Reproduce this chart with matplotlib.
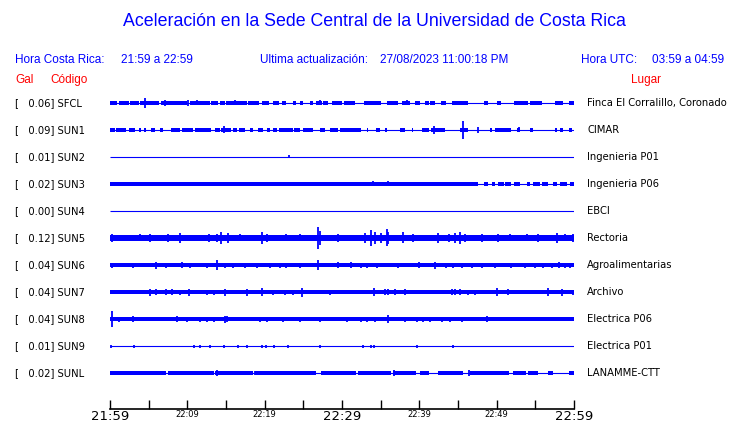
import matplotlib
matplotlib.use("Agg")
import matplotlib.pyplot as plt

W, H = 740, 423
BLUE = "#0000ff"
RED = "#ff0000"

# stations, top to bottom
codes = ["SFCL", "SUN1", "SUN2", "SUN3", "SUN4", "SUN5",
         "SUN6", "SUN7", "SUN8", "SUN9", "SUNL"]
gal = [0.06, 0.09, 0.01, 0.02, 0.00, 0.12, 0.04, 0.04, 0.04, 0.01, 0.02]
places = ["Finca El Corralillo, Coronado", "CIMAR", "Ingenieria P01",
          "Ingenieria P06", "EBCI", "Rectoria", "Agroalimentarias",
          "Archivo", "Electrica P06", "Electrica P01", "LANAMME-CTT"]

# half width of the noise band (pixels), 0 = only the line
band = [1.9, 1.8, 0, 1.8, 0, 3.0, 1.6, 2.0, 2.1, 0, 1.7]

# minutes (from 21:59) where the band is drawn
segments = {
    "SFCL": [(0, 0.9), (1.2, 2.4), (2.6, 3.7), (3.9, 6.4), (6.6, 9.9),
             (10.3, 12.9), (13.1, 14.0), (14.2, 14.9), (15.0, 17.7),
             (17.8, 19.3), (19.6, 20.5), (21.1, 21.8), (22.3, 22.8),
             (23.6, 24.1), (24.6, 25.0), (25.9, 26.3), (26.7, 27.4),
             (27.5, 28.2), (28.7, 30.0), (30.2, 31.7), (32.8, 35.1),
             (35.8, 37.3), (37.7, 38.8), (39.4, 40.1), (40.7, 41.2),
             (41.4, 42.0), (42.8, 43.5), (44.2, 46.3), (48.3, 48.9),
             (50.0, 50.6), (52.2, 54.1), (54.3, 55.8), (57.5, 58.6),
             (59.3, 60)],
    "SUN1": [(0, 0.65), (0.8, 2.1), (2.5, 3.2), (3.7, 4.0), (4.4, 4.7),
             (5.3, 5.8), (6.5, 6.8), (7.9, 9.1), (9.3, 10.7), (11.0, 13.1),
             (13.6, 14.2), (14.4, 15.6), (15.9, 16.4), (16.7, 17.5),
             (18.1, 18.5), (19.1, 19.8), (20.3, 20.7), (21.1, 21.6),
             (21.9, 23.6), (23.8, 24.6), (25.0, 26.3), (27.2, 27.8),
             (28.4, 29.5), (29.7, 32.5), (33.2, 33.4), (34.4, 34.9),
             (35.6, 35.8), (37.5, 38.1), (39.0, 39.2), (40.4, 41.2),
             (41.5, 43.3), (45.3, 46.3), (49.1, 49.4), (49.8, 51.9),
             (52.6, 53.0), (54.3, 54.7), (57.5, 57.8), (58.2, 58.6),
             (59.3, 59.7)],
    "SUN3": [(0, 45.9), (45.9, 47.6), (48.3, 48.9), (49.4, 49.8),
             (50.2, 50.9), (51.1, 51.9), (52.2, 53.0), (53.9, 54.3),
             (54.7, 55.6), (55.8, 56.7), (57.3, 57.8), (58.2, 59.1),
             (59.5, 60)],
    "SUNL": [(0, 7.3), (7.5, 13.4), (13.6, 18.5), (18.8, 26.7),
             (27.3, 31.8), (32.1, 36.3), (36.6, 39.6), (40.1, 41.3),
             (42.4, 45.6), (46.5, 51.6), (52.1, 53.8), (54.0, 55.4),
             (56.6, 57.3), (59.3, 60)],
}

# (minute, half height in pixels)
spikes = {
    "SFCL": [(4.5, 5), (7.1, 3), (10.1, 3), (11.3, 2.5), (16.2, 2.5),
             (27.2, 2.5), (38.4, 2.5), (46.2, 2)],
    "SUN1": [(14.8, 3.5), (41.9, 4), (45.6, 9), (47.6, 3), (52.9, 2.5)],
    "SUN2": [(23.2, 1.5)],
    "SUN3": [(34.0, 2.5), (36.0, 2.5)],
    "SUN5": [(0.2, 4), (3.9, 3.5), (5.2, 4), (7.5, 4), (9.1, 5), (12.8, 4),
             (13.8, 4), (14.4, 6), (15.3, 5), (16.8, 3.5), (19.6, 6),
             (20.3, 4), (22.8, 3.5), (24.6, 3.5), (26.9, 11), (27.2, 7),
             (29.5, 4), (33.0, 5), (33.7, 8), (34.3, 6), (35.1, 5),
             (35.8, 8.5), (36.0, 6), (37.9, 5.5), (39.2, 4), (41.2, 3),
             (42.4, 5), (43.9, 4), (44.6, 5), (45.3, 6), (45.9, 4),
             (48.1, 4), (50.2, 4), (51.7, 3.5), (53.9, 3.5), (55.4, 4),
             (57.8, 5), (58.8, 3.5), (59.9, 4)],
    "SUN6": [(0.2, 2.5), (3.0, 2.5), (6.0, 3.5), (7.3, 2.5), (9.3, 3),
             (10.3, 2.5), (12.5, 2.5), (13.8, 4.5), (14.9, 2.5), (15.9, 2.5),
             (17.5, 2.5), (19.0, 2.5), (20.7, 2.5), (22.0, 2.5), (22.8, 2.5),
             (24.6, 2.5), (26.9, 4.5), (29.5, 3), (31.2, 3), (32.5, 2.5),
             (33.2, 2.5), (34.5, 2.5), (37.3, 2.5), (39.9, 3), (42.0, 3.5),
             (43.5, 2.5), (44.4, 2.5), (45.5, 2.5), (46.8, 2.5), (48.1, 2.5),
             (49.8, 2.5), (51.9, 2.5), (53.7, 2.5), (55.0, 2.5), (56.0, 2.5),
             (57.1, 2.5), (58.0, 3), (58.8, 2.5), (59.5, 2.5)],
    "SUN7": [(5.2, 3.5), (5.9, 3), (7.2, 3), (8.0, 3), (9.1, 2.5),
             (10.2, 3.5), (12.5, 2.5), (13.4, 2.5), (14.9, 3.5), (17.7, 3.5),
             (19.6, 4), (21.1, 2.5), (22.6, 2.5), (23.7, 2.5), (24.8, 4.5),
             (28.4, 2.5), (34.1, 4), (35.6, 3), (36.0, 3), (36.9, 3),
             (38.2, 3), (44.2, 3), (44.6, 3), (45.3, 3), (46.3, 2.5),
             (47.2, 2.5), (50.0, 4), (51.5, 3), (56.7, 4), (58.4, 3.5),
             (59.9, 2.5)],
    "SUN8": [(0.2, 8), (1.2, 2.5), (3.0, 3), (8.7, 3), (9.9, 2.5),
             (11.6, 2.5), (12.5, 2.5), (13.4, 2.5), (14.9, 3.5), (15.1, 3),
             (19.4, 2.5), (20.3, 2.5), (22.4, 2.5), (24.6, 2.5), (27.2, 2.5),
             (30.6, 2.5), (32.5, 2.5), (33.2, 2.5), (34.3, 2.5), (36.0, 4),
             (38.1, 2.5), (39.7, 2.5), (40.5, 2.5), (41.4, 2.5), (42.9, 2.5),
             (44.0, 2.5), (45.5, 2.5), (48.7, 3)],
    "SUN9": [(0.1, 1.5), (3.1, 1.5), (10.8, 1.5), (11.7, 1.5), (12.9, 1.5),
             (14.7, 1.5), (16.6, 1.5), (17.7, 1.5), (19.6, 1.5), (20.2, 1.5),
             (21.2, 1.5), (23.0, 1.5), (27.2, 1.5), (32.7, 1.5), (33.7, 1.5),
             (34.1, 1.5), (39.7, 1.5), (44.3, 1.5)],
    "SUNL": [(13.8, 2.5), (18.7, 2), (36.7, 2.5), (46.4, 2.5)],
}

xticks = list(range(0, 61, 5))
xlabels = ["21:59", "", "22:09", "", "22:19", "", "22:29",
           "", "22:39", "", "22:49", "", "22:59"]
big_ticks = [0, 30, 60]

ROW0, STEP = 103, 27          # pixel y of first row, row spacing
X0, X1 = 110, 574             # pixel x of 21:59 and 22:59
TOP, AXIS = 90, 409           # axes top, axis line

fig = plt.figure(figsize=(W / 100, H / 100), dpi=100)
ax = fig.add_axes([X0 / W, 1 - AXIS / H, (X1 - X0) / W, (AXIS - TOP) / H])
ax.set_xlim(0, 60)
ax.set_ylim((AXIS - ROW0) / STEP, (TOP - ROW0) / STEP)

for i, code in enumerate(codes):
    ax.hlines(i, 0, 60, color=BLUE, lw=0.8)
    h = band[i] / STEP
    if h > 0:
        segs = segments.get(code, [(0, 60)])
        ax.broken_barh([(a, b - a) for a, b in segs], (i - h, 2 * h),
                       facecolor=BLUE, edgecolor="none")
    for m, s in spikes.get(code, []):
        ax.vlines(m, i - s / STEP, i + s / STEP, color=BLUE, lw=1.3)

for side in ["top", "left", "right"]:
    ax.spines[side].set_visible(False)
ax.spines["bottom"].set_linewidth(1.2)
ax.set_yticks([])
ax.set_xticks(xticks)
ax.set_xticklabels(xlabels)
ax.tick_params(axis="x", direction="in", length=6.5, width=1, pad=1)
for t, lab in zip(xticks, ax.get_xticklabels()):
    lab.set_fontsize(9.5 if t in big_ticks else 6)
    lab.set_family("DejaVu Sans")


def put(x, y, s, **kw):
    fig.text(x / W, 1 - y / H, s, va="center", **kw)


hf = dict(family="Liberation Sans", fontsize=8.5)
put(374, 22, "Aceleración en la Sede Central de la Universidad de Costa Rica",
    ha="center", color=BLUE, family="Liberation Sans", fontsize=12.8)
put(15, 60, "Hora Costa Rica:", color=BLUE, **hf)
put(121, 60, "21:59 a 22:59", color=BLUE, **hf)
put(260, 60, "Ultima actualización:", color=BLUE, **hf)
put(380, 60, "27/08/2023 11:00:18 PM", color=BLUE, **hf)
put(581, 60, "Hora UTC:", color=BLUE, **hf)
put(652, 60, "03:59 a 04:59", color=BLUE, **hf)
put(15, 80, "Gal", color=RED, **hf)
put(50, 80, "Código", color=RED, **hf)
put(631, 80, "Lugar", color=RED, **hf)

for i, code in enumerate(codes):
    y = ROW0 + STEP * i
    put(15, y, f"[   {gal[i]:.2f}] {code}", family="DejaVu Sans", fontsize=7.2)
    put(587, y, places[i], family="DejaVu Sans", fontsize=7.2)

fig.savefig("out.png", dpi=100, facecolor="white")
